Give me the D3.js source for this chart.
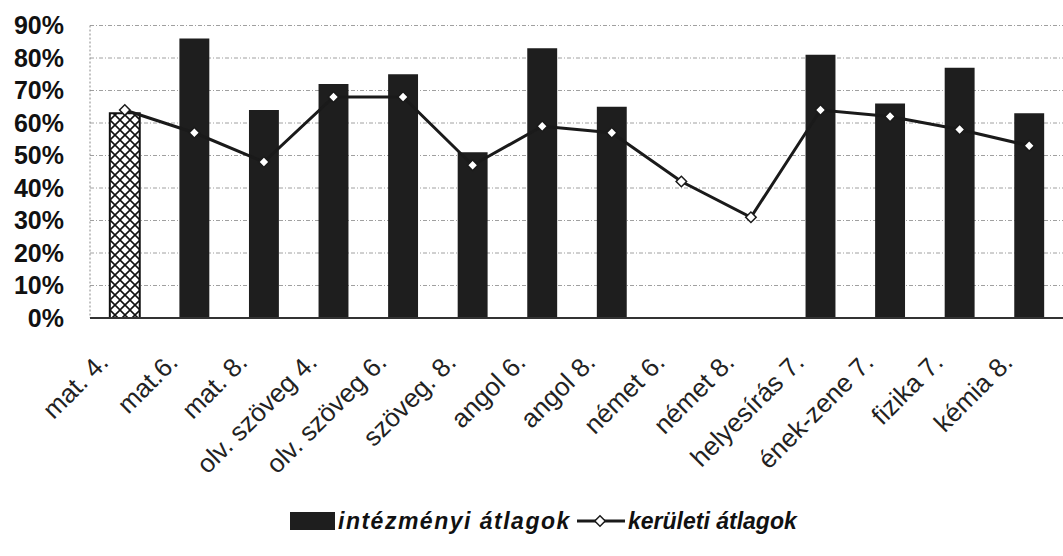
<!DOCTYPE html>
<html>
<head>
<meta charset="utf-8">
<script src="https://cdn.jsdelivr.net/npm/d3@7"></script>
<style>
  body { margin: 0; background: #fff; }
  svg { display: block; font-family: "Liberation Sans", Arial, sans-serif; }
</style>
</head>
<body>
<div id="chart"></div>
<script>
(function () {
  'use strict';

  // subjects along the x axis
  var categories = ['mat. 4.', 'mat.6.', 'mat. 8.', 'olv. szöveg 4.', 'olv. szöveg 6.', 'szöveg. 8.',
    'angol 6.', 'angol 8.', 'német 6.', 'német 8.', 'helyesírás 7.', 'ének-zene 7.', 'fizika 7.', 'kémia 8.'];

  // intézményi átlagok (bars), null = no bar
  var schoolValues = [0.63, 0.86, 0.64, 0.72, 0.75, 0.51, 0.83, 0.65, null, null, 0.81, 0.66, 0.77, 0.63];

  // kerületi átlagok (line)
  var districtValues = [0.64, 0.57, 0.48, 0.68, 0.68, 0.47, 0.59, 0.57, 0.42, 0.31, 0.64, 0.62, 0.58, 0.53];

  var yTicks = [0, 0.1, 0.2, 0.3, 0.4, 0.5, 0.6, 0.7, 0.8, 0.9];

  var width = 1063, height = 556;
  var barColor = '#1e1e1e';

  var svg = d3.select('#chart').append('svg')
    .attr('width', width)
    .attr('height', height);

  // cross hatch for the first bar
  var pattern = svg.append('defs').append('pattern')
    .attr('id', 'hatch')
    .attr('patternUnits', 'userSpaceOnUse')
    .attr('width', 10)
    .attr('height', 10);
  pattern.append('rect').attr('width', 10).attr('height', 10).attr('fill', '#fff');
  pattern.append('path')
    .attr('d', 'M0,0L10,10M10,0L0,10')
    .attr('stroke', '#111')
    .attr('stroke-width', 1.6);

  var x = d3.scaleBand()
    .domain(categories)
    .range([90, 1064])
    .paddingInner(0.57)
    .paddingOuter(0.285);

  var y = d3.scaleLinear()
    .domain([0, 0.9])
    .range([318, 25.5]);

  // gridlines
  svg.append('g')
    .selectAll('line')
    .data(yTicks.slice(1))
    .enter()
    .append('line')
    .attr('x1', 90)
    .attr('x2', 1063)
    .attr('y1', function (d) { return y(d); })
    .attr('y2', function (d) { return y(d); })
    .attr('stroke', '#a0a0a0')
    .attr('stroke-width', 1)
    .attr('stroke-dasharray', '4,2,1,2');

  // vertical axis line
  svg.append('line')
    .attr('x1', 90).attr('x2', 90)
    .attr('y1', y(0.9)).attr('y2', y(0))
    .attr('stroke', '#888')
    .attr('stroke-dasharray', '2,2');

  // y tick labels
  var yAxis = d3.axisLeft(y)
    .tickValues(yTicks)
    .tickFormat(d3.format('.0%'))
    .tickSize(0)
    .tickPadding(0);

  var yg = svg.append('g')
    .attr('transform', 'translate(64,0)')
    .call(yAxis);
  yg.select('.domain').remove();
  yg.selectAll('text')
    .style('font-size', '25px')
    .style('font-weight', 'bold')
    .attr('fill', '#111');

  // bars
  svg.append('g')
    .selectAll('rect')
    .data(categories.map(function (c, i) { return { cat: c, value: schoolValues[i], i: i }; })
      .filter(function (d) { return d.value !== null; }))
    .enter()
    .append('rect')
    .attr('x', function (d) { return x(d.cat); })
    .attr('width', x.bandwidth())
    .attr('y', function (d) { return y(d.value); })
    .attr('height', function (d) { return y(0) - y(d.value); })
    .attr('fill', function (d) { return d.i === 0 ? 'url(#hatch)' : barColor; })
    .attr('stroke', function (d) { return d.i === 0 ? '#111' : 'none'; })
    .attr('stroke-width', 2);

  // baseline
  svg.append('line')
    .attr('x1', 90).attr('x2', 1063)
    .attr('y1', y(0)).attr('y2', y(0))
    .attr('stroke', '#333')
    .attr('stroke-width', 2);

  // x labels, rotated
  var xg = svg.append('g')
    .attr('transform', 'translate(0,' + y(0) + ')')
    .call(d3.axisBottom(x).tickSize(0).tickPadding(0));
  xg.select('.domain').remove();
  xg.selectAll('text')
    .style('font-size', '26px')
    .attr('fill', '#222')
    .attr('text-anchor', 'end')
    .attr('dy', null)
    .attr('y', 0)
    .attr('transform', 'translate(-15,46) rotate(-45)');

  // district line
  var line = d3.line()
    .x(function (d, i) { return x(categories[i]) + x.bandwidth() / 2; })
    .y(function (d) { return y(d); });

  svg.append('path')
    .datum(districtValues)
    .attr('d', line)
    .attr('fill', 'none')
    .attr('stroke', '#1a1a1a')
    .attr('stroke-width', 3);

  var diamond = d3.symbol().type(d3.symbolSquare).size(55);

  svg.append('g')
    .selectAll('path')
    .data(districtValues)
    .enter()
    .append('path')
    .attr('d', diamond)
    .attr('transform', function (d, i) {
      return 'translate(' + (x(categories[i]) + x.bandwidth() / 2) + ',' + y(d) + ') rotate(45)';
    })
    .attr('fill', '#fff')
    .attr('stroke', '#1a1a1a')
    .attr('stroke-width', 1.5);

  // legend
  var legend = svg.append('g')
    .style('font-size', '23px')
    .style('font-weight', 'bold')
    .style('font-style', 'italic');

  legend.append('rect')
    .attr('x', 290).attr('y', 512)
    .attr('width', 45).attr('height', 18)
    .attr('fill', barColor);

  legend.append('text')
    .attr('x', 338).attr('y', 529)
    .attr('fill', '#111')
    .attr('letter-spacing', '1.5px')
    .text('intézményi átlagok');

  legend.append('line')
    .attr('x1', 577).attr('x2', 625)
    .attr('y1', 521).attr('y2', 521)
    .attr('stroke', '#1a1a1a')
    .attr('stroke-width', 3);

  legend.append('path')
    .attr('d', diamond)
    .attr('transform', 'translate(600,521) rotate(45)')
    .attr('fill', '#fff')
    .attr('stroke', '#1a1a1a')
    .attr('stroke-width', 1.5);

  legend.append('text')
    .attr('x', 628).attr('y', 529)
    .attr('fill', '#111')
    .text('kerületi átlagok');
}());
</script>
</body>
</html>
